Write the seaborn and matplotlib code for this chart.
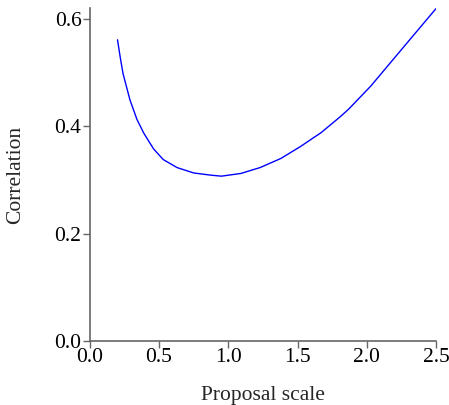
import matplotlib
matplotlib.use("Agg")
import matplotlib.pyplot as plt
import seaborn as sns
import pandas as pd

# Data
proposal_scale = [0.20, 0.22, 0.24, 0.29, 0.34, 0.39, 0.46, 0.53, 0.63, 0.75, 0.87, 0.95,
                  1.09, 1.23, 1.38, 1.52, 1.67, 1.81, 1.87, 2.03, 2.17, 2.32, 2.50]
correlation = [0.561, 0.528, 0.498, 0.449, 0.413, 0.387, 0.358, 0.338, 0.323, 0.313, 0.309, 0.307,
               0.312, 0.323, 0.340, 0.362, 0.388, 0.418, 0.432, 0.475, 0.518, 0.564, 0.619]
x_ticks = [0.0, 0.5, 1.0, 1.5, 2.0, 2.5]
y_ticks = [0.0, 0.2, 0.4, 0.6]

sns.set_style("ticks")
plt.rcParams['font.family'] = ['Liberation Serif', 'DejaVu Serif']

df = pd.DataFrame({"Proposal scale": proposal_scale, "Correlation": correlation})

fig = plt.figure(figsize=(4.49, 4.05), dpi=100)
ax = fig.add_axes([0.2, 0.158, 0.771, 0.822])
sns.lineplot(data=df, x="Proposal scale", y="Correlation", ax=ax, color="blue", linewidth=1.0)

ax.set_xlim(0, 2.5)
ax.set_ylim(0, 0.62)
ax.set_xticks(x_ticks)
ax.set_yticks(y_ticks)
ax.set_xticklabels([f"{v:.1f}" for v in x_ticks])
ax.set_yticklabels([f"{v:.1f}" for v in y_ticks])
for s in ["top", "right"]:
    ax.spines[s].set_visible(False)
for s in ["left", "bottom"]:
    ax.spines[s].set_color("#666666")
    ax.spines[s].set_linewidth(1.2)
ax.tick_params(axis="both", colors="#666666", labelcolor="black", labelsize=15.5, length=5, width=1, pad=1)
ax.tick_params(axis="x", pad=0)
ax.set_xlabel("Proposal scale", fontsize=15.5, labelpad=14)
ax.set_ylabel("Correlation", fontsize=15.5, labelpad=21)

fig.savefig("out.png", dpi=100)
